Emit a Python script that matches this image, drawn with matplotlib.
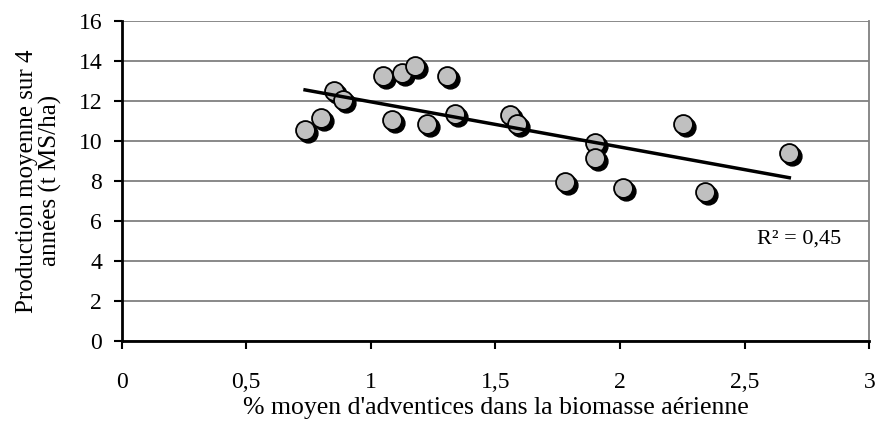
import matplotlib.pyplot as plt
import matplotlib.transforms as mtransforms
import numpy as np

plt.rcParams['font.family'] = ['Liberation Serif', 'DejaVu Serif']

# % adventices vs production (t MS/ha)
adventices = [0.736, 0.800, 0.853, 0.889, 1.050, 1.083, 1.124, 1.177, 1.224, 1.304,
              1.337, 1.558, 1.588, 1.779, 1.898, 1.898, 2.010, 2.254, 2.341, 2.679]
production = [10.53, 11.16, 12.49, 12.03, 13.22, 11.03, 13.36, 13.72, 10.83, 13.22,
              11.36, 11.28, 10.83, 7.95, 9.87, 9.12, 7.62, 10.83, 7.45, 9.37]
x_ticks = [0, 0.5, 1, 1.5, 2, 2.5, 3]
x_ticklabels = ["0", "0,5", "1", "1,5", "2", "2,5", "3"]
y_ticks = np.arange(0, 17, 2)

fig = plt.figure(figsize=(8.75, 4.21), dpi=100)
ax = fig.add_axes([0.139, 0.19, 0.8545, 0.761])

x = np.array(adventices)
y = np.array(production)

# shadow then points
shift = mtransforms.ScaledTranslation(3/100, -3/100, fig.dpi_scale_trans)
ax.scatter(x, y, s=185, c="black", zorder=3, transform=ax.transData + shift)
ax.scatter(x, y, s=185, c="#c0c0c0", edgecolors="black", linewidths=1.3, zorder=4)

# linear trend
a, b = np.polyfit(x, y, 1)
xl = np.array([x.min(), x.max()])
ax.plot(xl, a * xl + b, color="black", lw=2.5, zorder=5)

ax.text(2.55, 5.1, "R² = 0,45", fontsize=16, ha="left", va="center")

ax.set_xlim(0, 3)
ax.set_ylim(0, 16)
ax.set_xticks(x_ticks)
ax.set_xticklabels(x_ticklabels)
ax.set_yticks(y_ticks)
ax.tick_params(labelsize=17, width=1.5, length=6, color="black")
ax.tick_params(axis="x", pad=16)
ax.tick_params(axis="y", pad=8)
ax.yaxis.grid(True, color="#808080", lw=1.3)
ax.set_axisbelow(True)
for s in ["left", "bottom"]:
    ax.spines[s].set_linewidth(2)
    ax.spines[s].set_zorder(6)
ax.spines["right"].set_color("#808080")
ax.spines["right"].set_linewidth(1.3)
ax.spines["top"].set_visible(False)

ax.set_xlabel("% moyen d'adventices dans la biomasse aérienne", fontsize=18.5, labelpad=3)
ax.set_ylabel("Production moyenne sur 4\nannées (t MS/ha)", fontsize=18, labelpad=12,
              linespacing=1.05)

fig.savefig("out.png", dpi=100)
